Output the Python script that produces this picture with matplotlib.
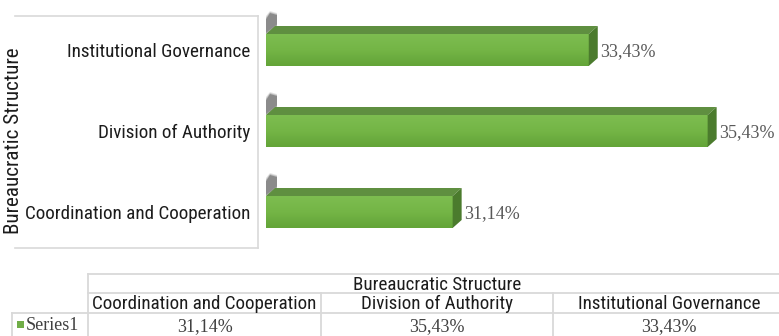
import numpy as np
import matplotlib.pyplot as plt
from matplotlib import font_manager
from matplotlib.patches import Polygon, Rectangle
from matplotlib.lines import Line2D
from matplotlib.colors import LinearSegmentedColormap

# chart data
categories = ['Coordination and Cooperation', 'Division of Authority', 'Institutional Governance']
values = [31.14, 35.43, 33.43]
value_labels = ['31,14%', '35,43%', '33,43%']
axis_title = 'Bureaucratic Structure'
series_name = 'Series1'

# pick a narrow sans if one is installed
installed = {f.name for f in font_manager.fontManager.ttflist}
narrow = next((f for f in ['Roboto Condensed', 'Liberation Sans Narrow',
                           'DejaVu Sans Condensed', 'Roboto'] if f in installed), 'DejaVu Sans')
serif = 'Liberation Serif'
dark = '#1c1c1c'

W, H = 779, 336
fig = plt.figure(figsize=(W / 100, H / 100), dpi=100)

def fx(px):
    return px / W

def fy(py):
    return 1 - py / H

# bar area, x axis starts at 28 %
x_min = 28
px_unit = 59.44
py_unit = 81
ax = fig.add_axes([fx(266), fy(252.5), 513 / W, 243 / H])

bar_h = 32 / py_unit
dx = 9 / px_unit   # depth of the 3d bars
dy = 8 / py_unit

top_col = '#5f8f40'
side_col = '#4b7b2d'
grad = np.linspace(0, 1, 50).reshape(-1, 1)
cmap = LinearSegmentedColormap.from_list('g', ['#7dbd50', '#74b546', '#63a438'])

# shadow outline in pixels, relative to the front top-left corner of a bar
shadow = [(-3, -42), (-3, 10), (4, 21), (11, 19), (11, 8), (0, 0), (0, -42)]

for i, v in enumerate(values):
    yb = i - bar_h / 2
    yt = i + bar_h / 2
    # blurred shadow on the left wall
    for g, a in [(2.0, 0.12), (1.0, 0.2), (0.0, 0.35)]:
        pts = [(x_min + (px - g * (px <= 0)) / px_unit,
                yt + (py + g * np.sign(py)) / py_unit) for px, py in shadow]
        ax.add_patch(Polygon(pts, closed=True, facecolor='#2a2a2a', edgecolor='none',
                             alpha=a, zorder=1))
    ax.barh(i, v - x_min, left=x_min, height=bar_h, color='#63a438', zorder=2)
    ax.imshow(grad, extent=(x_min, v, yb, yt), cmap=cmap, aspect='auto', zorder=3,
              origin='upper')
    ax.add_patch(Polygon([(x_min, yt), (v, yt), (v + dx, yt + dy), (x_min + dx, yt + dy)],
                         closed=True, facecolor=top_col, edgecolor='none', zorder=3))
    ax.add_patch(Polygon([(v, yb), (v, yt), (v + dx, yt + dy), (v + dx, yb + dy)],
                         closed=True, facecolor=side_col, edgecolor='none', zorder=3))
    ax.text(v + dx + 2 / px_unit, i - 2 / py_unit, value_labels[i], ha='left', va='center',
            fontfamily=serif, fontsize=13, color='#595959', clip_on=False)

ax.set_xlim(x_min, x_min + 513 / px_unit)
ax.set_ylim(-0.5, 2.5)
ax.set_yticks(range(len(categories)))
ax.set_yticklabels(categories, fontfamily=narrow, fontsize=13.8, color=dark)
ax.tick_params(axis='y', length=0, pad=11.5)
ax.set_xticks([])
for sp in ax.spines.values():
    sp.set_visible(False)
ax.patch.set_alpha(0)

# box around the category axis
box_c = '#d9d9d9'
for xs, ys in [([15, 258], [16, 16]), ([258, 258], [16, 248]), ([15, 258], [248, 248])]:
    fig.add_artist(Line2D([fx(p) for p in xs], [fy(p) for p in ys], color=box_c, lw=1.2))

fig.text(fx(14), fy(141), axis_title, rotation=90, ha='center', va='center',
         fontfamily=narrow, fontsize=15.2, color=dark)

# data table below the chart
cols = [88, 321, 553, 785]
centers = [(cols[j] + cols[j + 1]) / 2 for j in range(3)]
line_c = '#d9d9d9'
for xs, ys in [([88, 779], [274, 274]), ([88, 779], [293, 293]), ([12, 779], [313, 313]),
               ([88, 88], [274, 336]), ([321, 321], [293, 336]), ([553, 553], [293, 336]),
               ([12, 12], [313, 336])]:
    fig.add_artist(Line2D([fx(p) for p in xs], [fy(p) for p in ys], color=line_c, lw=1.3))

fig.text(fx(437), fy(285), axis_title, ha='center', va='center',
         fontfamily=narrow, fontsize=13.7, color=dark)
for j, c in enumerate(categories):
    fig.text(fx(centers[j]), fy(304), c, ha='center', va='center',
             fontfamily=narrow, fontsize=13.7, color=dark)
    fig.text(fx(centers[j]), fy(327), value_labels[j], ha='center', va='center',
             fontfamily=serif, fontsize=13, color='#404040')

fig.add_artist(Rectangle((fx(17), fy(328)), 7 / W, 7 / H, transform=fig.transFigure,
                         facecolor='#70ad47', edgecolor='none'))
fig.text(fx(26), fy(325), series_name, ha='left', va='center',
         fontfamily=serif, fontsize=13, color='#404040')

fig.savefig('out.png', dpi=100)
